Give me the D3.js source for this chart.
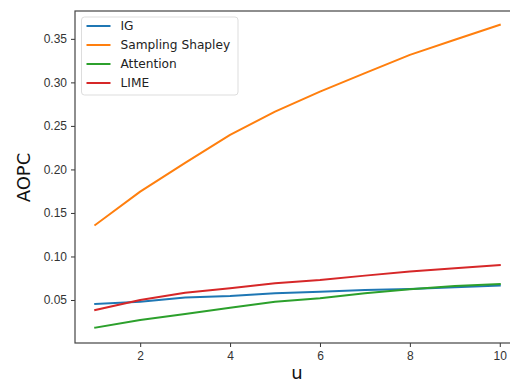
<!DOCTYPE html>
<html>
<head>
<meta charset="utf-8">
<script src="https://cdn.jsdelivr.net/npm/d3@7"></script>
<style>
  body { margin: 0; background: #fff; }
  svg { display: block; font-family: "DejaVu Sans", sans-serif; }
</style>
</head>
<body>
<div id="chart"></div>
<script>
const uValues = [1, 2, 3, 4, 5, 6, 7, 8, 9, 10];
const igValues = [0.0454, 0.048, 0.053, 0.0546, 0.0577, 0.0596, 0.0615, 0.0626, 0.0646, 0.0665];
const shapleyValues = [0.1362, 0.1745, 0.2075, 0.2397, 0.2664, 0.2894, 0.3106, 0.3316, 0.3489, 0.3661];
const attentionValues = [0.0182, 0.027, 0.0339, 0.0412, 0.048, 0.052, 0.0577, 0.0623, 0.0661, 0.0684];
const limeValues = [0.0385, 0.05, 0.0584, 0.0634, 0.0692, 0.073, 0.078, 0.0826, 0.0864, 0.0902];
const seriesNames = ["IG", "Sampling Shapley", "Attention", "LIME"];
const xTicks = [2, 4, 6, 8, 10];
const yTicks = [0.05, 0.10, 0.15, 0.20, 0.25, 0.30, 0.35];

const colors = ["#1f77b4", "#ff7f0e", "#2ca02c", "#d62728"];
const series = [igValues, shapleyValues, attentionValues, limeValues].map((vals, i) => ({
  name: seriesNames[i],
  color: colors[i],
  points: uValues.map((u, j) => ({ u, v: vals[j] }))
}));

const width = 510, height = 384;
const plotLeft = 75, plotRight = 520, plotTop = 11, plotBottom = 343;

const svg = d3.select("#chart").append("svg")
  .attr("width", width)
  .attr("height", height);

const x = d3.scaleLinear().domain([0.55, 10.45]).range([plotLeft, plotRight]);
const y = d3.scaleLinear().domain([0.0006, 0.382]).range([plotBottom, plotTop]);

const line = d3.line()
  .x(d => x(d.u))
  .y(d => y(d.v));

const plot = svg.append("g");
series.forEach(s => {
  plot.append("path")
    .datum(s.points)
    .attr("fill", "none")
    .attr("stroke", s.color)
    .attr("stroke-width", 2)
    .attr("stroke-linejoin", "round")
    .attr("stroke-linecap", "square")
    .attr("d", line);
});

// axes
const xAxis = svg.append("g")
  .attr("transform", `translate(0,${plotBottom})`)
  .call(d3.axisBottom(x).tickValues(xTicks).tickSize(4).tickPadding(4).tickFormat(d3.format("d")));
const yAxis = svg.append("g")
  .attr("transform", `translate(${plotLeft},0)`)
  .call(d3.axisLeft(y).tickValues(yTicks).tickSize(4).tickPadding(4).tickFormat(d3.format(".2f")));

[xAxis, yAxis].forEach(a => {
  a.select(".domain").remove();
  a.selectAll(".tick line").attr("stroke", "#333").attr("stroke-width", 1);
  a.selectAll(".tick text").attr("fill", "#333").style("font-size", "12px");
});

// spines
svg.append("rect")
  .attr("x", plotLeft).attr("y", plotTop)
  .attr("width", plotRight - plotLeft).attr("height", plotBottom - plotTop)
  .attr("fill", "none")
  .attr("stroke", "#444")
  .attr("stroke-width", 1.2);

// axis labels
svg.append("text")
  .attr("x", 297).attr("y", 379)
  .attr("text-anchor", "middle")
  .attr("fill", "#111")
  .style("font-size", "18px")
  .text("u");

svg.append("text")
  .attr("transform", "translate(29.5,177.5) rotate(-90)")
  .attr("text-anchor", "middle")
  .attr("fill", "#111")
  .style("font-size", "18px")
  .text("AOPC");

// legend
const legend = svg.append("g").attr("transform", "translate(81.5,17)");
legend.append("rect")
  .attr("width", 156.5).attr("height", 78)
  .attr("rx", 3)
  .attr("fill", "#fff")
  .attr("fill-opacity", 0.8)
  .attr("stroke", "#ddd");

series.forEach((s, i) => {
  const g = legend.append("g").attr("transform", `translate(0,${9 + i * 19})`);
  g.append("line")
    .attr("x1", 5).attr("x2", 29)
    .attr("stroke", s.color)
    .attr("stroke-width", 2);
  g.append("text")
    .attr("x", 39).attr("y", 0)
    .attr("dy", "0.35em")
    .attr("fill", "#222")
    .style("font-size", "12.2px")
    .text(s.name);
});
</script>
</body>
</html>
